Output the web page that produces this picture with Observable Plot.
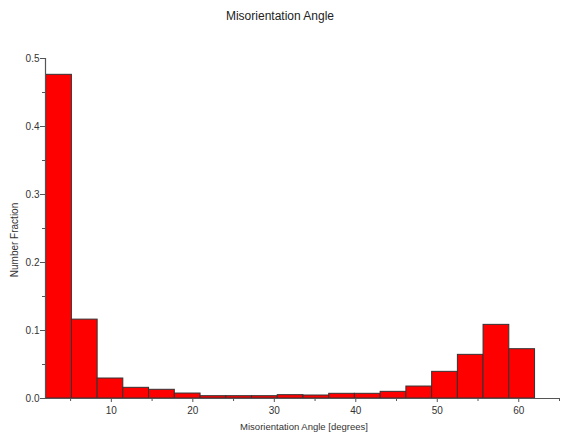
<!DOCTYPE html>
<html>
<head>
<meta charset="utf-8">
<script src="https://cdn.jsdelivr.net/npm/d3@7"></script>
<script src="https://cdn.jsdelivr.net/npm/@observablehq/plot@0.6"></script>
<style>
  html, body { margin: 0; padding: 0; background: #fff; }
  #chart { width: 561px; height: 435px; }
</style>
</head>
<body>
<div id="chart"></div>
<script>
// Bin edges (degrees) of the misorientation-angle histogram
const binStart = [2.0, 5.16, 8.32, 11.47, 14.63, 17.79, 20.95, 24.11, 27.26, 30.42,
                  33.58, 36.74, 39.89, 43.05, 46.21, 49.37, 52.53, 55.68, 58.84];
const binEnd   = [5.16, 8.32, 11.47, 14.63, 17.79, 20.95, 24.11, 27.26, 30.42, 33.58,
                  36.74, 39.89, 43.05, 46.21, 49.37, 52.53, 55.68, 58.84, 62.0];
// Number fraction per bin
const fraction = [0.476, 0.116, 0.0294, 0.0157, 0.0128, 0.0073, 0.0034, 0.0034, 0.0034, 0.0049,
                  0.0044, 0.0069, 0.0069, 0.0098, 0.0176, 0.0392, 0.0642, 0.1083, 0.0725];

const xMajorTicks = [10, 20, 30, 40, 50, 60];
const xMinorTicks = [5, 15, 25, 35, 45, 55, 65];
const yMajorTicks = [0, 0.1, 0.2, 0.3, 0.4, 0.5];
const yMinorTicks = [0.05, 0.15, 0.25, 0.35, 0.45];

const titleText = "Misorientation Angle";
const xLabel = "Misorientation Angle [degrees]";
const yLabel = "Number Fraction";

const data = binStart.map((s, i) => ({x1: s, x2: binEnd[i], y: fraction[i]}));

const axisColor = "#555";
const textColor = "#333";

const chart = Plot.plot({
  width: 561,
  height: 435,
  marginTop: 58,
  marginBottom: 37,
  marginLeft: 45,
  marginRight: 2,
  style: {fontFamily: "'Liberation Sans', Arial, sans-serif", fontSize: "10px", background: "#fff", color: textColor},
  x: {domain: [1.92, 65]},
  y: {domain: [0, 0.5]},
  marks: [
    Plot.rect(data, {x1: "x1", x2: "x2", y1: 0, y2: "y", fill: "#ff0000", stroke: "#333", strokeWidth: 1, inset: 0}),
    Plot.ruleY([0], {stroke: axisColor, strokeWidth: 1.2}),
    Plot.ruleX([1.92], {stroke: axisColor, strokeWidth: 1.2}),
    Plot.axisX({ticks: xMajorTicks, tickSize: 4, tickPadding: 4, tickFormat: d => String(d), label: null, stroke: axisColor, fill: textColor}),
    Plot.axisX({ticks: xMinorTicks, tickSize: 3, tickFormat: () => "", label: null, stroke: axisColor}),
    Plot.axisY({ticks: yMajorTicks, tickSize: 5, tickPadding: 1, tickFormat: d => d.toFixed(1), label: null, stroke: axisColor, fill: textColor}),
    Plot.axisY({ticks: yMinorTicks, tickSize: 3, tickFormat: () => "", label: null, stroke: axisColor})
  ]
});

const svg = d3.select(chart);
svg.append("text")
  .attr("x", 280).attr("y", 20)
  .attr("text-anchor", "middle")
  .attr("font-size", "12px")
  .attr("fill", "#222")
  .text(titleText);
svg.append("text")
  .attr("x", 304).attr("y", 430)
  .attr("text-anchor", "middle")
  .attr("font-size", "9.5px")
  .attr("fill", textColor)
  .text(xLabel);
svg.append("text")
  .attr("transform", "translate(18,240) rotate(-90)")
  .attr("text-anchor", "middle")
  .attr("font-size", "10px")
  .attr("fill", textColor)
  .text(yLabel);

document.getElementById("chart").appendChild(chart);
</script>
</body>
</html>
